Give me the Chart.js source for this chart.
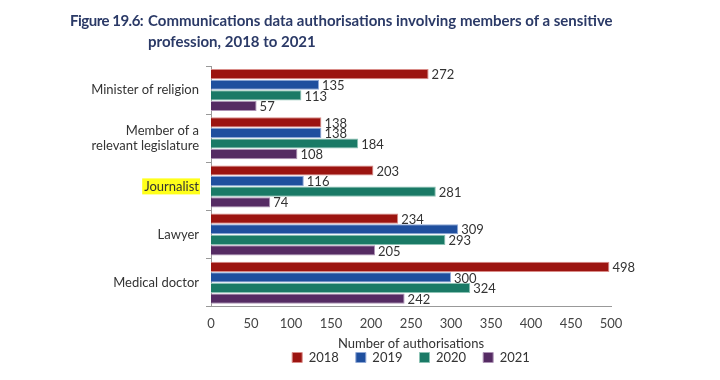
<!DOCTYPE html>
<html><head><meta charset="utf-8">
<script src="https://cdn.jsdelivr.net/npm/chart.js@4"></script>
<style>
html,body{margin:0;padding:0;background:#fff;}
#wrap{position:relative;width:720px;height:380px;}
.t{position:absolute;font-family:Lato,sans-serif;font-weight:bold;font-size:15px;color:#2b3a67;line-height:21px;white-space:nowrap;}
canvas{position:absolute;left:0;top:0;}
</style></head>
<body><div id="wrap">
<canvas id="c" width="720" height="380"></canvas>
<div class="t" style="left:70px;top:10px;letter-spacing:-0.5px;">Figure 19.6:</div>
<div class="t" style="left:148px;top:10px;">Communications data authorisations involving members of a sensitive<br>profession, 2018 to 2021</div>
</div>
<script>
const categories = ["Minister of religion", ["Member of a","relevant legislature"], "Journalist", "Lawyer", "Medical doctor"];
const years = ["2018","2019","2020","2021"];
const v2018 = [272, 138, 203, 234, 498];
const v2019 = [135, 138, 116, 309, 300];
const v2020 = [113, 184, 281, 293, 324];
const v2021 = [57, 108, 74, 205, 242];
const xTicks = [0,50,100,150,200,250,300,350,400,450,500];
const colors = ["#9c1410","#1f4f9e","#1a7a66","#552b63"];
const borders = ["#d98c88","#8fa8d6","#8cc2b4","#ad93b5"];
const highlightIndex = 2;

const FONT = "Lato, sans-serif";
const series = [v2018, v2019, v2020, v2021];

const valueLabels = {
  id: 'valueLabels',
  afterDatasetsDraw(chart) {
    const ctx = chart.ctx;
    ctx.save();
    ctx.font = "13px " + FONT;
    ctx.fillStyle = "#333";
    ctx.textBaseline = "middle";
    ctx.textAlign = "left";
    chart.data.datasets.forEach((ds, di) => {
      const meta = chart.getDatasetMeta(di);
      meta.data.forEach((bar, i) => {
        ctx.fillText(String(ds.data[i]), bar.x + 3, bar.y + 1);
      });
    });
    ctx.restore();
  }
};

const highlight = {
  id: 'highlight',
  beforeDraw(chart) {
    const ys = chart.scales.y;
    const ctx = chart.ctx;
    ctx.save();
    ctx.font = "13px " + FONT;
    const label = categories[highlightIndex];
    const w = ctx.measureText(label).width;
    const y = ys.getPixelForTick(highlightIndex);
    const right = ys.right - 12;
    ctx.fillStyle = "#ffff1a";
    ctx.fillRect(right - w - 2, y - 8, w + 3, 16);
    ctx.restore();
  }
};

new Chart(document.getElementById('c'), {
  type: 'bar',
  data: {
    labels: categories,
    datasets: years.map((y, i) => ({
      label: y,
      data: series[i],
      backgroundColor: colors[i],
      borderColor: borders[i],
      borderWidth: 1,
      barPercentage: 0.96,
      categoryPercentage: 0.88
    }))
  },
  options: {
    indexAxis: 'y',
    responsive: false,
    animation: false,
    layout: { padding: { top: 66, right: 109, bottom: 6, left: 0 } },
    plugins: {
      legend: {
        position: 'bottom',
        fullSize: false,
        labels: { boxWidth: 10, boxHeight: 10, padding: 17, color: '#333', font: { family: FONT, size: 13 } }
      },
      tooltip: { enabled: false },
      title: { display: false }
    },
    scales: {
      x: {
        min: 0, max: 500,
        afterBuildTicks(scale) { scale.ticks = xTicks.map(v => ({ value: v })); },
        grid: { display: false, drawTicks: false },
        border: { display: true, color: '#999', width: 1 },
        ticks: { color: '#444', font: { family: FONT, size: 13 }, padding: 9 },
        title: { display: true, text: 'Number of authorisations', color: '#333', font: { family: FONT, size: 13 }, padding: { top: -4, bottom: -18 } }
      },
      y: {
        afterFit(scale) { scale.width = 211; },
        grid: { offset: true, drawOnChartArea: false, drawTicks: true, tickLength: 5, color: '#999' },
        border: { display: true, color: '#999', width: 1 },
        ticks: { color: '#333', font: { family: FONT, size: 13 }, padding: 7, autoSkip: false }
      }
    }
  },
  plugins: [valueLabels, highlight]
});
</script>
</body></html>
